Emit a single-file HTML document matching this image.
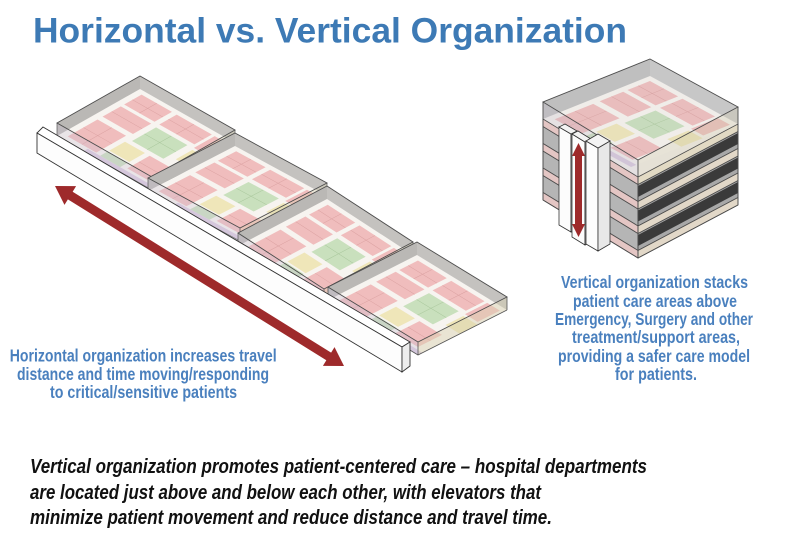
<!DOCTYPE html>
<html>
<head>
<meta charset="utf-8">
<style>
html,body{margin:0;padding:0;background:#fff;width:800px;height:536px;overflow:hidden}
svg{display:block}
.cap{font-family:"Liberation Sans",Arial,sans-serif;font-weight:bold;font-size:17.5px;fill:#4a80be}
.bot{font-family:"Liberation Sans",Arial,sans-serif;font-weight:bold;font-style:italic;font-size:20px;fill:#111}
</style>
</head>
<body>
<svg width="800" height="536" viewBox="0 0 800 536" xmlns="http://www.w3.org/2000/svg">
<defs>
<g id="plan">
<rect width="100" height="100" fill="#f7f4f0"/>
<rect x="6" y="5" width="32" height="21" fill="#f0bdbd"/>
<rect x="6" y="30" width="32" height="22" fill="#f0bdbd"/>
<rect x="43" y="5" width="37" height="21" fill="#f0bdbd"/>
<rect x="83" y="5" width="14" height="25" fill="#f0bdbd"/>
<rect x="84" y="33" width="16" height="20" fill="#efe6b9"/>
<rect x="44" y="31" width="33" height="29" fill="#c9e0bd"/>
<rect x="6" y="58" width="30" height="36" fill="#f0bdbd"/>
<rect x="41" y="65" width="21" height="19" fill="#efe6b9"/>
<rect x="41" y="86" width="21" height="9" fill="#c9e0bd"/>
<rect x="67" y="65" width="25" height="27" fill="#f0bdbd"/>
<rect x="28" y="95" width="72" height="5" fill="#dacbe0"/>
<g stroke="#d99f9f" stroke-width="0.5" fill="none">
<line x1="6" y1="16" x2="38" y2="16"/><line x1="22" y1="5" x2="22" y2="26"/>
<line x1="43" y1="15" x2="80" y2="15"/><line x1="61" y1="5" x2="61" y2="26"/>
<line x1="6" y1="75" x2="36" y2="75"/><line x1="21" y1="58" x2="21" y2="94"/>
<line x1="67" y1="78" x2="92" y2="78"/><line x1="6" y1="41" x2="38" y2="41"/>
</g>
<g stroke="#a5c498" stroke-width="0.5" fill="none">
<line x1="44" y1="45" x2="77" y2="45"/><line x1="60" y1="31" x2="60" y2="60"/>
</g>
</g>
<clipPath id="c1"><polygon points="140,89 235,143 152,190 57,136"/></clipPath>
<clipPath id="c2"><polygon points="235,146 327,196 240,241 148,191"/></clipPath>
<clipPath id="c3"><polygon points="327,199 413,255 324,302 238,246"/></clipPath>
<clipPath id="c4"><polygon points="417,255 507,310 418,355 328,300"/></clipPath>
<clipPath id="cv"><polygon points="650,76 738,124 638,177 543,119"/></clipPath>
</defs>

<!-- Title -->
<text x="33" y="42.5" font-family="Liberation Sans, Arial, sans-serif" font-weight="bold" font-size="35" fill="#3d7ab5" textLength="594" lengthAdjust="spacingAndGlyphs">Horizontal vs. Vertical Organization</text>

<!-- Slab 1 -->
<g>
<polygon points="140,89 235,143 152,190 57,136" fill="#f5f2ee"/>
<g clip-path="url(#c1)"><use href="#plan" transform="matrix(0.95,0.54,-0.83,0.47,140,89)"/></g>
<polygon points="140,76 57,123 57,136 140,89" fill="#bab8b5"/>
<polygon points="140,76 235,130 235,143 140,89" fill="#c4c2bf"/>
<polygon points="57,123 152,177 152,190 57,136" fill="#c9bfd3" fill-opacity="0.3"/>
<polygon points="152,177 235,130 235,143 152,190" fill="#d8d0b0" fill-opacity="0.35"/>
<polygon points="140,76 235,130 152,177 57,123" fill="none" stroke="#4d4d4d" stroke-width="0.9"/>
<polyline points="57,136 152,190 235,143" fill="none" stroke="#6a6a6a" stroke-width="0.7"/>
<path d="M57,123V136M152,177V190M235,130V143" stroke="#555" stroke-width="0.7"/>
</g>
<!-- Slab 2 -->
<g>
<polygon points="235,146 327,196 240,241 148,191" fill="#f5f2ee"/>
<g clip-path="url(#c2)"><use href="#plan" transform="matrix(0.92,0.50,-0.87,0.45,235,146)"/></g>
<polygon points="235,133 148,178 148,191 235,146" fill="#bab8b5"/>
<polygon points="235,133 327,183 327,196 235,146" fill="#c4c2bf"/>
<polygon points="148,178 240,228 240,241 148,191" fill="#c9bfd3" fill-opacity="0.3"/>
<polygon points="240,228 327,183 327,196 240,241" fill="#d8d0b0" fill-opacity="0.35"/>
<polygon points="235,133 327,183 240,228 148,178" fill="none" stroke="#4d4d4d" stroke-width="0.9"/>
<polyline points="148,191 240,241 327,196" fill="none" stroke="#6a6a6a" stroke-width="0.7"/>
<path d="M148,178V191M240,228V241M327,183V196" stroke="#555" stroke-width="0.7"/>
</g>
<!-- Slab 3 -->
<g>
<polygon points="327,199 413,255 324,302 238,246" fill="#f5f2ee"/>
<g clip-path="url(#c3)"><use href="#plan" transform="matrix(0.86,0.56,-0.89,0.47,327,199)"/></g>
<polygon points="327,186 238,233 238,246 327,199" fill="#bab8b5"/>
<polygon points="327,186 413,242 413,255 327,199" fill="#c4c2bf"/>
<polygon points="238,233 324,289 324,302 238,246" fill="#c9bfd3" fill-opacity="0.3"/>
<polygon points="324,289 413,242 413,255 324,302" fill="#d8d0b0" fill-opacity="0.35"/>
<polygon points="327,186 413,242 324,289 238,233" fill="none" stroke="#4d4d4d" stroke-width="0.9"/>
<polyline points="238,246 324,302 413,255" fill="none" stroke="#6a6a6a" stroke-width="0.7"/>
<path d="M238,233V246M324,289V302M413,242V255" stroke="#555" stroke-width="0.7"/>
</g>
<!-- Slab 4 -->
<g>
<polygon points="417,255 507,310 418,355 328,300" fill="#f5f2ee"/>
<g clip-path="url(#c4)"><use href="#plan" transform="matrix(0.90,0.55,-0.89,0.45,417,255)"/></g>
<polygon points="417,242 328,287 328,300 417,255" fill="#bab8b5"/>
<polygon points="417,242 507,297 507,310 417,255" fill="#c4c2bf"/>
<polygon points="328,287 418,342 418,355 328,300" fill="#c9bfd3" fill-opacity="0.35"/>
<polygon points="418,342 507,297 507,310 418,355" fill="#d8d0b0" fill-opacity="0.45"/>
<polygon points="417,242 507,297 418,342 328,287" fill="none" stroke="#4d4d4d" stroke-width="0.9"/>
<polyline points="328,300 418,355 507,310" fill="none" stroke="#555" stroke-width="0.8"/>
<path d="M328,287V300M418,342V355M507,297V310" stroke="#555" stroke-width="0.8"/>
</g>

<!-- Corridor bar -->
<polygon points="43,127 410,342 402,347 37,133" fill="#fff" stroke="#333" stroke-width="0.9"/>
<polygon points="37,133 402,347 402,372 37,153" fill="#fdfdfd" stroke="#333" stroke-width="0.9"/>
<polygon points="402,347 410,342 410,366 402,372" fill="#ededed" stroke="#333" stroke-width="0.9"/>

<!-- Horizontal red arrow -->
<polygon points="55,186 76.09,186.17 72.66,191.69 331.10,352.67 334.53,347.15 344,366 322.91,365.83 326.34,360.31 67.90,199.33 64.47,204.85" fill="#9e2a2b"/>

<!-- Vertical stack: lower storeys (bottom first) -->
<g stroke="#4d4d4d" stroke-width="0.8">
<!-- k=3 -->
<polygon points="543,175.5 638,233.5 638,250.5 543,192.5" fill="#b5b5b5"/>
<polygon points="543,192.5 638,250.5 638,258 543,200" fill="#e4c6c4"/>
<polygon points="638,233.5 738,180.5 738,197.5 638,250.5" fill="#a8a8a8"/>
<polygon points="638,235 738,182 738,193 638,246" fill="#3a3a3a" stroke="none"/>
<polygon points="638,250.5 738,197.5 738,205 638,258" fill="#e2d8c8"/>
<!-- k=2 -->
<polygon points="543,151 638,209 638,226 543,168" fill="#b5b5b5"/>
<polygon points="543,168 638,226 638,233.5 543,175.5" fill="#e4c6c4"/>
<polygon points="638,209 738,156 738,173 638,226" fill="#a8a8a8"/>
<polygon points="638,210.5 738,157.5 738,168.5 638,221.5" fill="#3a3a3a" stroke="none"/>
<polygon points="638,226 738,173 738,180.5 638,233.5" fill="#e2d8c8"/>
<!-- k=1 -->
<polygon points="543,126.5 638,184.5 638,201.5 543,143.5" fill="#b5b5b5"/>
<polygon points="543,143.5 638,201.5 638,209 543,151" fill="#e4c6c4"/>
<polygon points="638,184.5 738,131.5 738,148.5 638,201.5" fill="#a8a8a8"/>
<polygon points="638,186 738,133 738,144 638,197" fill="#3a3a3a" stroke="none"/>
<polygon points="638,201.5 738,148.5 738,156 638,209" fill="#e2d8c8"/>
</g>
<!-- Roof storey -->
<g>
<polygon points="650,76 738,124 638,177 543,119" fill="#f5f2ee"/>
<g clip-path="url(#cv)"><use href="#plan" transform="matrix(0.88,0.48,-1.07,0.43,650,76)"/></g>
<polygon points="650,59 543,102 543,119 650,76" fill="#b9b9b9" fill-opacity="0.9"/>
<polygon points="650,59 738,107 738,124 650,76" fill="#c3c3c3" fill-opacity="0.9"/>
<polygon points="543,102 638,160 638,177 543,119" fill="#bdb6c4" fill-opacity="0.3"/>
<polygon points="638,160 738,107 738,124 638,177" fill="#c9c3a8" fill-opacity="0.35"/>
<polygon points="543,119 638,177 638,184.5 543,126.5" fill="#e4c6c4" stroke="#4d4d4d" stroke-width="0.8"/>
<polygon points="638,177 738,124 738,131.5 638,184.5" fill="#e2dac4" stroke="#4d4d4d" stroke-width="0.8"/>
<polygon points="650,59 738,107 638,160 543,102" fill="#bbbbbb" fill-opacity="0.12" stroke="#4d4d4d" stroke-width="0.9"/>
<path d="M543,102V200M638,160V258M738,107V205" stroke="#4d4d4d" stroke-width="0.9"/>
<polyline points="543,200 638,258 738,205" fill="none" stroke="#4d4d4d" stroke-width="0.9"/>
</g>

<!-- Elevator columns -->
<g stroke="#333" stroke-width="0.8">
<polygon points="559,127 571,134 571,232 559,225" fill="#fcfcfc"/>
<polygon points="571,134 577,131 577,229 571,232" fill="#e4e4e4"/>
<polygon points="559,127 571,134 577,131 565,124" fill="#f3f3f3"/>
<polygon points="572,134 585,142 585,245 572,237" fill="#fcfcfc"/>
<polygon points="585,142 591,139 591,242 585,245" fill="#e4e4e4"/>
<polygon points="572,134 585,142 591,139 578,131" fill="#f3f3f3"/>
<polygon points="586,141 598,148 598,251 586,244" fill="#fcfcfc"/>
<polygon points="598,148 610,141 610,244 598,251" fill="#e8e8e8"/>
<polygon points="586,141 598,148 610,141 598,134" fill="#f3f3f3"/>
</g>
<polygon points="578.5,143 585,156 582,156 582,224 585,224 578.5,237 572,224 575,224 575,156 572,156" fill="#9e2a2b"/>

<!-- Horizontal caption -->
<text class="cap" x="9.7" y="361.7" textLength="267" lengthAdjust="spacingAndGlyphs">Horizontal organization increases travel</text>
<text class="cap" x="17" y="380" textLength="252" lengthAdjust="spacingAndGlyphs">distance and time moving/responding</text>
<text class="cap" x="50" y="398" textLength="187" lengthAdjust="spacingAndGlyphs">to critical/sensitive patients</text>

<!-- Vertical caption -->
<text class="cap" x="561" y="288" textLength="187" lengthAdjust="spacingAndGlyphs">Vertical organization stacks</text>
<text class="cap" x="573" y="307" textLength="164" lengthAdjust="spacingAndGlyphs">patient care areas above</text>
<text class="cap" x="555" y="325" textLength="198" lengthAdjust="spacingAndGlyphs">Emergency, Surgery and other</text>
<text class="cap" x="572" y="343" textLength="168" lengthAdjust="spacingAndGlyphs">treatment/support areas,</text>
<text class="cap" x="558" y="362" textLength="192" lengthAdjust="spacingAndGlyphs">providing a safer care model</text>
<text class="cap" x="615" y="380" textLength="82" lengthAdjust="spacingAndGlyphs">for patients.</text>

<!-- Bottom statement -->
<text class="bot" x="30" y="473" textLength="617" lengthAdjust="spacingAndGlyphs">Vertical organization promotes patient-centered care – hospital departments</text>
<text class="bot" x="30" y="499" textLength="511" lengthAdjust="spacingAndGlyphs">are located just above and below each other, with elevators that</text>
<text class="bot" x="30" y="524" textLength="522" lengthAdjust="spacingAndGlyphs">minimize patient movement and reduce distance and travel time.</text>
</svg>
</body>
</html>
